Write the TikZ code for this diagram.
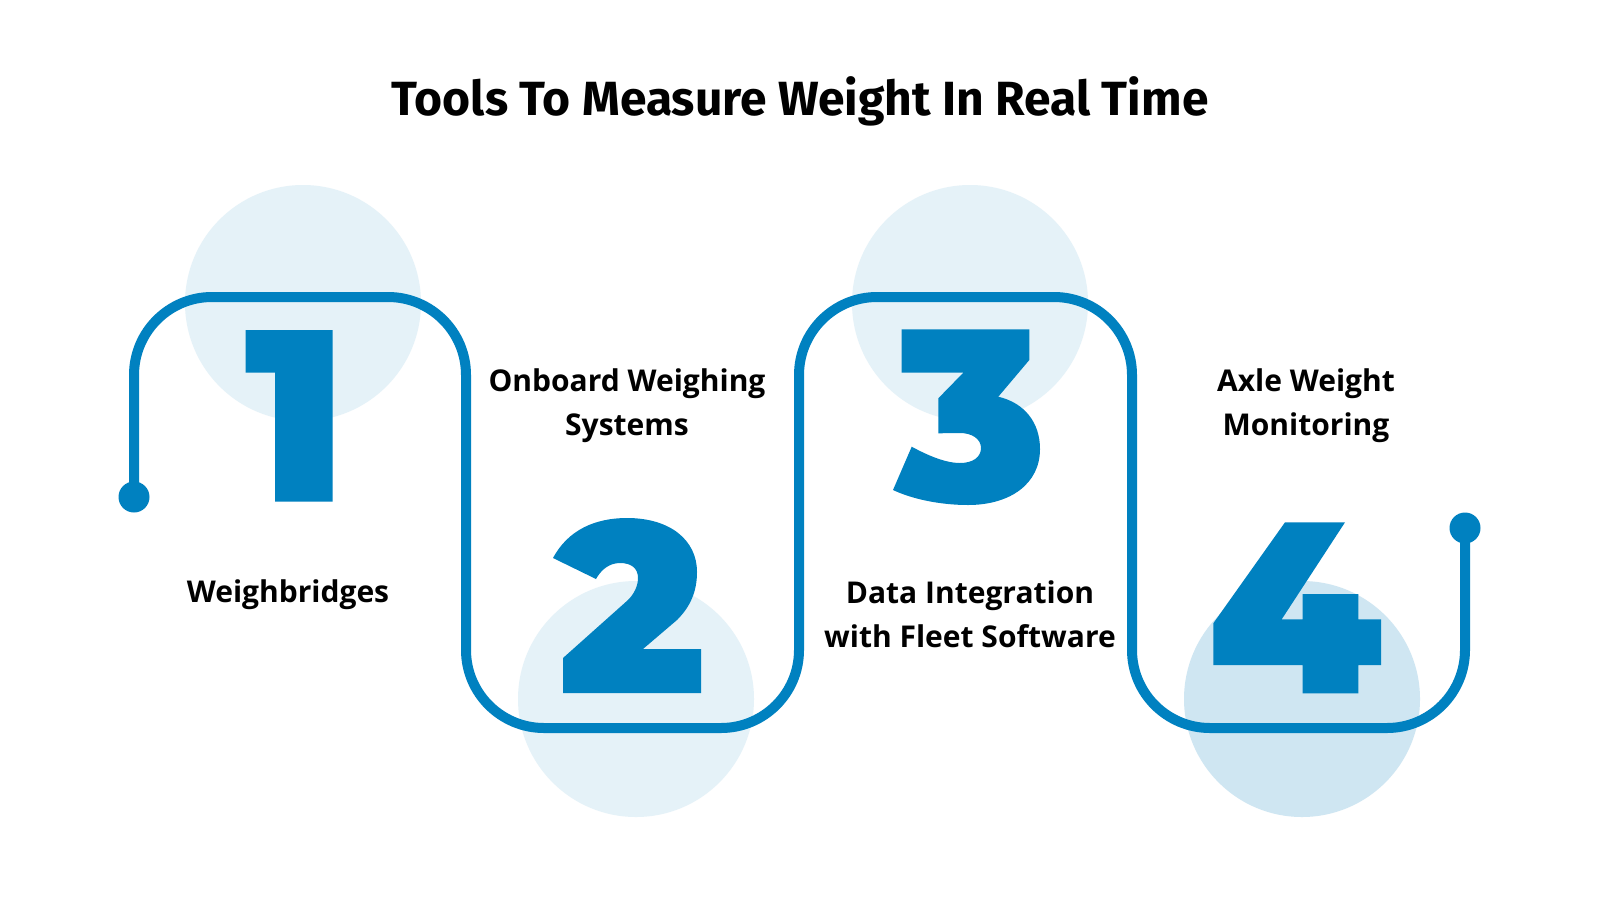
\documentclass[tikz,border=0pt]{standalone}
\usepackage{fontspec}
\setmainfont{Fira Sans}
\newfontfamily\labelfont{Open Sans}
\definecolor{mainblue}{HTML}{0081C0}
\definecolor{paleblue}{HTML}{E5F2F8}
\definecolor{softblue}{HTML}{CFE6F2}
\begin{document}
\begin{tikzpicture}[x=1pt,y=-1pt,
  bubble/.style={circle,fill=#1,draw=none,minimum size=236pt,inner sep=0pt},
  enddot/.style={circle,fill=mainblue,draw=none,minimum size=31pt,inner sep=0pt},
  track/.style={draw=mainblue,line width=10pt,rounded corners=78pt},
  digit/.style={fill=mainblue,draw=none},
  label/.style={font=\labelfont\bfseries\fontsize{30}{44}\selectfont,align=center,text=black,inner sep=0pt,anchor=base},
  title/.style={font=\fontsize{48}{56}\selectfont\bfseries,text=black,inner sep=0pt,anchor=base}]
\useasboundingbox[fill=white] (0,0) rectangle (1600,900);
% background circles
\node[bubble=paleblue] (c1) at (303,303) {};
\node[bubble=paleblue] (c2) at (636,699) {};
\node[bubble=paleblue] (c3) at (970,303) {};
\node[bubble=softblue] (c4) at (1302,699) {};
% title
\node[title] (ttl) at (800,115) {Tools To Measure Weight In Real Time};
% track
\node[enddot] (d1) at (134,497) {};
\node[enddot] (d2) at (1465,528) {};
\draw[track] (d1.center) -- (134,297) -- (466,297) -- (466,728) -- (799,728) -- (799,297)
  -- (1132,297) -- (1132,728) -- (1465,728) -- (d2.center);
% digit 1
\fill[digit] (245.7,330) -- (332.7,330) -- (332.7,501.7) -- (275,501.7) -- (275,372.7) -- (245.7,372.7) -- cycle;
% digit 2
\fill[digit] (553,558) .. controls (568,530) and (595,518) .. (627,518)
  .. controls (670,518) and (697,540) .. (697,572)
  .. controls (697,592) and (690,607) .. (677,620)
  -- (643,649) -- (701,649) -- (701,693) -- (563,693) -- (563,658) -- (628,600)
  .. controls (634,594) and (638,586) .. (638,578)
  .. controls (638,568) and (631,563) .. (620,563)
  .. controls (609,563) and (601,570) .. (596,579) -- cycle;
% digit 3
\fill[digit] (901.7,329.3) -- (1029.3,329.3) -- (1029.3,360) -- (998.3,396.7)
  .. controls (1025,403) and (1040,423) .. (1040,449)
  .. controls (1040,484) and (1010,505) .. (968,505)
  .. controls (940,505) and (912,499) .. (893,490)
  -- (911.7,446.7)
  .. controls (927,455) and (945,463) .. (960,463)
  .. controls (973,463) and (981,457) .. (981,448)
  .. controls (981,439) and (972,433) .. (960,433)
  -- (938.3,433.3) -- (938.3,398.3) -- (963.3,372.7) -- (901.7,372.7) -- cycle;
% digit 4
\fill[digit] (1285,522.3) -- (1345,522.3) -- (1281.7,619.3) -- (1302.7,619.3) -- (1302.7,594)
  -- (1358.3,594) -- (1358.3,619.3) -- (1381,619.3) -- (1381,665) -- (1358.3,665)
  -- (1358.3,693.3) -- (1302.7,693.3) -- (1302.7,665) -- (1213.3,665) -- (1213.3,623.3) -- cycle;
% labels (base anchor = baseline of the last line)
\node[label] (t1) at (288,602) {Weighbridges};
\node[label] (t2) at (627,435) {Onboard Weighing\\Systems};
\node[label] (t3) at (970,647) {Data Integration\\with Fleet Software};
\node[label] (t4) at (1306,435) {Axle Weight\\Monitoring};
\end{tikzpicture}
\end{document}
